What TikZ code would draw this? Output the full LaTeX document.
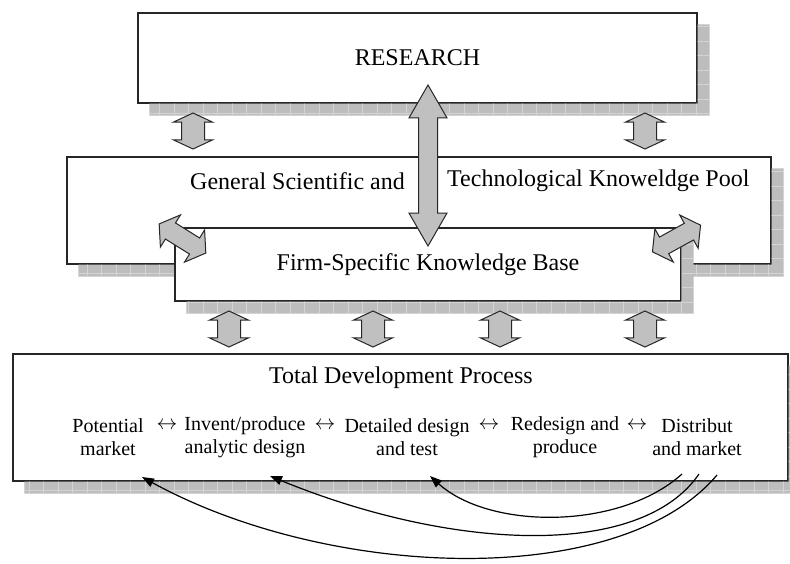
\documentclass[tikz,border=0pt]{standalone}
\usepackage{fontspec}
\setmainfont{Liberation Serif}
\usetikzlibrary{positioning, calc, shapes.arrows, arrows.meta, patterns.meta}

\definecolor{shadowgray}{HTML}{BDBDBD}
\definecolor{shadowgrid}{HTML}{D4D4D4}
\definecolor{arrowgray}{HTML}{C0C0C0}

\newcommand{\boxshadow}[1]{%
  \fill[shadowgray, postaction={pattern={Hatch[angle=0, distance=14.5pt, line width=0.7pt]}, pattern color=shadowgrid}]
    ($(#1.south west)+(12,0)$) -- ($(#1.south west)+(12,12)$) -- ($(#1.south east)+(12,12)$)
    -- ($(#1.north east)+(12,12)$) -- ($(#1.north east)+(0,12)$) -- (#1.south east) -- cycle;}

\begin{document}
\begin{tikzpicture}[x=1pt, y=-1pt,
    box/.style={draw=black!85, line width=1.2pt, fill=white, inner sep=0pt, font=\fontsize{24}{28}\selectfont},
    title/.style={inner sep=0pt, font=\fontsize{24}{28}\selectfont},
    flow/.style={inner sep=0pt, align=center, font=\fontsize{20}{23}\selectfont},
    blockarrow/.style={double arrow, draw=black!85, line width=1pt, fill=arrowgray, inner xsep=0pt},
    updown/.style={blockarrow, rotate=90, minimum height=36pt, inner ysep=11pt, double arrow head extend=8pt, double arrow tip angle=130},
    bigarrow/.style={blockarrow, inner ysep=9pt, double arrow head extend=9.5pt},
    loopback/.style={-{Triangle[length=12pt, width=9pt]}, line width=1.2pt}]
    \useasboundingbox (0,0) rectangle (790,563);

    \node[box, minimum width=559, minimum height=90] (research) at (417.5,58) {RESEARCH};
    \boxshadow{research}
    \node[box, minimum width=704, minimum height=107] (pool) at (419,210.5) {};
    \boxshadow{pool}
    \node[box, minimum width=506, minimum height=73] (firm) at (428,264.5) {Firm-Specific Knowledge Base};
    \boxshadow{firm}
    \node[box, minimum width=775, minimum height=127] (total) at (400.5,417.5) {};
    \boxshadow{total}

    \node[title, anchor=east] (poolleft) at (405,181) {General Scientific and};
    \node[title, anchor=west] (poolright) at (447,181) {Technological Knoweldge Pool};
    \node[title] (totaltitle) at (401,378) {Total Development Process};

    \node[bigarrow, rotate=90, minimum height=161pt, double arrow tip angle=60] (rf) at (428,165.5) {};
    \node[bigarrow, rotate=-32, minimum height=55pt, double arrow tip angle=110] (pfl) at (182.5,238.5) {};
    \node[bigarrow, rotate=29, minimum height=55pt, double arrow tip angle=110] (pfr) at (676.5,238.5) {};

    \node[updown] (rp1) at (193,131) {};
    \node[updown] (rp2) at (645,131) {};
    \node[updown] (ft1) at (229,329) {};
    \node[updown] (ft2) at (373,329) {};
    \node[updown] (ft3) at (500,329) {};
    \node[updown] (ft4) at (645,329) {};

    \node[flow] (market) at (108,437) {Potential\\market};
    \node[flow] (invent) at (245,437) {Invent/produce\\analytic design};
    \node[flow] (detail) at (407,437) {Detailed design\\and test};
    \node[flow] (redesign) at (565,437) {Redesign and\\produce};
    \node[flow] (distrib) at (697,437) {Distribut\\and market};
    \node[flow] (lr1) at (167,426) {$\leftrightarrow$};
    \node[flow] (lr2) at (325,426) {$\leftrightarrow$};
    \node[flow] (lr3) at (489,426) {$\leftrightarrow$};
    \node[flow] (lr4) at (637,426) {$\leftrightarrow$};

    \coordinate (back1) at (682,474);
    \coordinate (back2) at (699,474);
    \coordinate (back3) at (717,475);
    \coordinate (to1) at (430,476);
    \coordinate (to2) at (270,476);
    \coordinate (to3) at (142,477);
    \draw[loopback] (back1) .. controls (620,530) and (490,530) .. (to1);
    \draw[loopback] (back2) .. controls (640,560) and (450,550) .. (to2);
    \draw[loopback] (back3) .. controls (620,590) and (330,580) .. (to3);
\end{tikzpicture}
\end{document}
